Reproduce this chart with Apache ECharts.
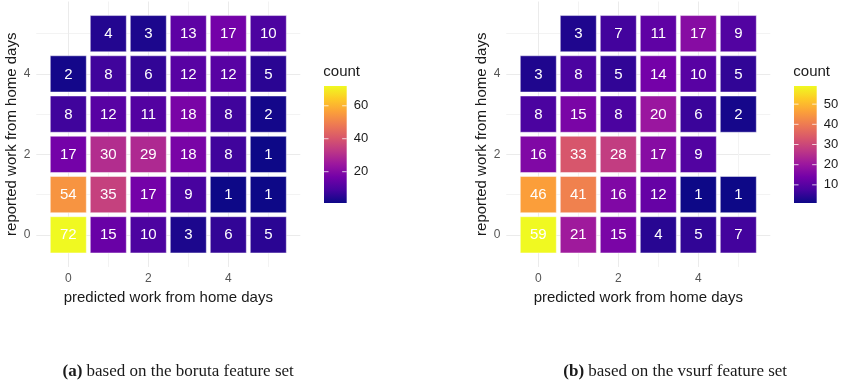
<!DOCTYPE html>
<html>
<head>
<meta charset="utf-8">
<script src="https://cdn.jsdelivr.net/npm/echarts@6.0.0/dist/echarts.min.js"></script>
<style>
  html, body { margin: 0; padding: 0; background: #ffffff; }
  #chart { width: 846px; height: 382px; }
</style>
</head>
<body>
<div id="chart"></div>
<script>
// Confusion tables of work-from-home days: rows are reported days 0..5, columns predicted days 0..5.
const predictedDays = [0, 1, 2, 3, 4, 5];
const reportedDays = [0, 1, 2, 3, 4, 5];

const borutaCounts = [
  [72, 15, 10, 3, 6, 5],      // reported 0
  [54, 35, 17, 9, 1, 1],      // reported 1
  [17, 30, 29, 18, 8, 1],     // reported 2
  [8, 12, 11, 18, 8, 2],      // reported 3
  [2, 8, 6, 12, 12, 5],       // reported 4
  [null, 4, 3, 13, 17, 10]    // reported 5
];

const vsurfCounts = [
  [59, 21, 15, 4, 5, 7],      // reported 0
  [46, 41, 16, 12, 1, 1],     // reported 1
  [16, 33, 28, 17, 9, null],  // reported 2
  [8, 15, 8, 20, 6, 2],       // reported 3
  [3, 8, 5, 14, 10, 5],       // reported 4
  [null, 3, 7, 11, 17, 9]     // reported 5
];

const axisLabelValues = [0, 2, 4];
const borutaLegendTicks = [20, 40, 60];
const vsurfLegendTicks = [10, 20, 30, 40, 50];

const xTitle = 'predicted work from home days';
const yTitle = 'reported work from home days';
const legendTitle = 'count';
const captionA = ['(a)', ' based on the boruta feature set'];
const captionB = ['(b)', ' based on the vsurf feature set'];

// viridis "plasma" palette
const plasma = ['#0d0887', '#47039f', '#7301a8', '#9c179e', '#bd3786',
                '#d8576b', '#ed7953', '#fb9f3a', '#fdca26', '#f0f921'];

function toCells(table) {
  const out = [];
  reportedDays.forEach((r, ri) => {
    predictedDays.forEach((p, pi) => {
      const v = table[ri][pi];
      if (v !== null && v !== undefined) out.push([p, r, v]);
    });
  });
  return out;
}
function range(table) {
  const vals = table.flat().filter(v => v !== null && v !== undefined);
  return [Math.min(...vals), Math.max(...vals)];
}

const borutaCells = toCells(borutaCounts);
const vsurfCells = toCells(vsurfCounts);
const borutaRange = range(borutaCounts);
const vsurfRange = range(vsurfCounts);

const SANS = '"Liberation Sans", Arial, sans-serif';
const SERIF = '"Liberation Serif", "Times New Roman", serif';

function renderTile(params, api) {
  const x = api.value(0), y = api.value(1), v = api.value(2);
  const c = api.coord([x, y]);
  const s = api.size([1, 1]);
  const w = s[0] - 4, h = s[1] - 4;
  return {
    type: 'group',
    children: [
      {
        type: 'rect',
        shape: { x: c[0] - w / 2, y: c[1] - h / 2, width: w, height: h },
        style: { fill: api.visual('color'), stroke: 'rgba(255,255,255,0.45)', lineWidth: 1 }
      },
      {
        type: 'text',
        x: c[0], y: c[1] + 0.5,
        style: {
          text: String(v), fill: '#ffffff', fontSize: 15, fontFamily: SANS,
          align: 'center', verticalAlign: 'middle'
        }
      }
    ]
  };
}

function gradientStops() {
  return plasma.map((col, i) => ({ offset: i / (plasma.length - 1), color: col }));
}

function renderColorBar(params, api) {
  const lo = api.coord([0, api.value(0)]);
  const hi = api.coord([1, api.value(1)]);
  return {
    type: 'rect',
    shape: { x: lo[0], y: hi[1], width: hi[0] - lo[0], height: lo[1] - hi[1] },
    style: { fill: new echarts.graphic.LinearGradient(0, 1, 0, 0, gradientStops()) }
  };
}

function renderColorTick(params, api) {
  const cs = params.coordSys;
  const y = api.coord([0, api.value(0)])[1];
  const len = cs.width / 5;
  const st = { stroke: 'rgba(255,255,255,0.75)', lineWidth: 1 };
  return {
    type: 'group',
    children: [
      { type: 'line', shape: { x1: cs.x, y1: y, x2: cs.x + len, y2: y }, style: st },
      { type: 'line', shape: { x1: cs.x + cs.width - len, y1: y, x2: cs.x + cs.width, y2: y }, style: st }
    ]
  };
}

function panelX(gridIndex) {
  return {
    type: 'value', gridIndex, min: -0.8, max: 5.8,
    name: xTitle, nameLocation: 'middle', nameGap: 19,
    nameTextStyle: { fontSize: 15, fontFamily: SANS, color: '#1a1a1a' },
    axisLine: { show: false },
    axisTick: { show: false, customValues: predictedDays },
    axisLabel: { customValues: axisLabelValues, margin: 6, fontSize: 12, fontFamily: SANS, color: '#555555' },
    splitLine: { show: true, lineStyle: { color: ['#ebebeb', '#f3f3f3'], width: 1 } }
  };
}
function panelY(gridIndex) {
  return {
    type: 'value', gridIndex, min: -0.8, max: 5.8,
    name: yTitle, nameLocation: 'middle', nameGap: 17,
    nameTextStyle: { fontSize: 15, fontFamily: SANS, color: '#1a1a1a' },
    axisLine: { show: false },
    axisTick: { show: false, customValues: reportedDays },
    axisLabel: { customValues: axisLabelValues, margin: 6, fontSize: 12, fontFamily: SANS, color: '#555555' },
    splitLine: { show: true, lineStyle: { color: ['#ebebeb', '#f3f3f3'], width: 1 } }
  };
}
function barX(gridIndex) {
  return { type: 'value', gridIndex, min: 0, max: 1, show: false };
}
function barY(gridIndex, r, ticks) {
  return {
    type: 'value', gridIndex, min: r[0], max: r[1], position: 'right',
    axisLine: { show: false }, axisTick: { show: false, customValues: ticks },
    splitLine: { show: false },
    axisLabel: { customValues: ticks, margin: 7, fontSize: 13, fontFamily: SANS, color: '#1a1a1a' }
  };
}

const option = {
  backgroundColor: '#ffffff',
  animation: false,
  grid: [
    { left: 36.3, top: 1.5, width: 264, height: 265.5 },
    { left: 506.3, top: 1.5, width: 264, height: 265.5 },
    { left: 324, top: 86, width: 22.7, height: 117 },
    { left: 794, top: 86, width: 22.7, height: 117 }
  ],
  xAxis: [panelX(0), panelX(1), barX(2), barX(3)],
  yAxis: [panelY(0), panelY(1), barY(2, borutaRange, borutaLegendTicks), barY(3, vsurfRange, vsurfLegendTicks)],
  visualMap: [
    { type: 'continuous', show: false, seriesIndex: 0, dimension: 2,
      min: borutaRange[0], max: borutaRange[1], inRange: { color: plasma } },
    { type: 'continuous', show: false, seriesIndex: 1, dimension: 2,
      min: vsurfRange[0], max: vsurfRange[1], inRange: { color: plasma } }
  ],
  series: [
    { type: 'custom', xAxisIndex: 0, yAxisIndex: 0, data: borutaCells, renderItem: renderTile },
    { type: 'custom', xAxisIndex: 1, yAxisIndex: 1, data: vsurfCells, renderItem: renderTile },
    { type: 'custom', xAxisIndex: 2, yAxisIndex: 2, data: [borutaRange], renderItem: renderColorBar },
    { type: 'custom', xAxisIndex: 3, yAxisIndex: 3, data: [vsurfRange], renderItem: renderColorBar },
    { type: 'custom', xAxisIndex: 2, yAxisIndex: 2, data: borutaLegendTicks.map(v => [v]), renderItem: renderColorTick },
    { type: 'custom', xAxisIndex: 3, yAxisIndex: 3, data: vsurfLegendTicks.map(v => [v]), renderItem: renderColorTick }
  ],
  graphic: [
    { type: 'text', left: 323.3, top: 64,
      style: { text: legendTitle, fontSize: 15, fontFamily: SANS, fill: '#1a1a1a' } },
    { type: 'text', left: 793.3, top: 64,
      style: { text: legendTitle, fontSize: 15, fontFamily: SANS, fill: '#1a1a1a' } },
    { type: 'text', left: 62.5, top: 363,
      style: {
        text: '{b|' + captionA[0] + '}{n|' + captionA[1] + '}',
        rich: {
          b: { fontSize: 17, fontFamily: SERIF, fontWeight: 'bold', fill: '#1a1a1a' },
          n: { fontSize: 17, fontFamily: SERIF, fill: '#1a1a1a' }
        }
      } },
    { type: 'text', left: 563.3, top: 363,
      style: {
        text: '{b|' + captionB[0] + '}{n|' + captionB[1] + '}',
        rich: {
          b: { fontSize: 17, fontFamily: SERIF, fontWeight: 'bold', fill: '#1a1a1a' },
          n: { fontSize: 17, fontFamily: SERIF, fill: '#1a1a1a' }
        }
      } }
  ]
};

const chart = echarts.init(document.getElementById('chart'), null, { renderer: 'canvas' });
chart.setOption(option);
</script>
</body>
</html>
